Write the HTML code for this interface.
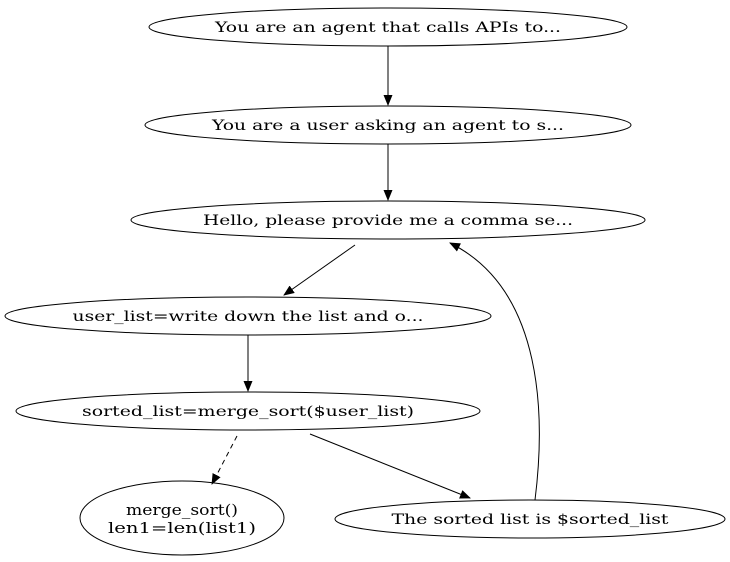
<!DOCTYPE html>
<html><head><style>html,body{margin:0;padding:0;background:#fff;}svg{display:block}</style></head>
<body>
<svg width="730" height="562" viewBox="0 0 730 562" xmlns="http://www.w3.org/2000/svg" font-family="DejaVu Serif, serif" font-size="14" text-anchor="middle">
<defs><marker id="a" markerWidth="11" markerHeight="9" refX="10" refY="4.5" orient="auto" markerUnits="userSpaceOnUse"><path d="M0,0 L11,4.5 L0,9 z" fill="#000"/></marker></defs>
<g fill="none" stroke="#000" stroke-width="1">
<ellipse cx="388" cy="27" rx="239" ry="19"/>
<ellipse cx="388" cy="125" rx="243" ry="19"/>
<ellipse cx="388" cy="220" rx="257" ry="19"/>
<ellipse cx="248" cy="316" rx="243" ry="19"/>
<ellipse cx="248" cy="411" rx="232" ry="19"/>
<ellipse cx="182" cy="518" rx="102" ry="37"/>
<ellipse cx="530" cy="519" rx="195" ry="19"/>
<line x1="388" y1="46" x2="388" y2="105" marker-end="url(#a)"/>
<line x1="388" y1="144" x2="388" y2="200" marker-end="url(#a)"/>
<line x1="355" y1="245" x2="284" y2="295" marker-end="url(#a)"/>
<line x1="248" y1="335" x2="248" y2="391" marker-end="url(#a)"/>
<line x1="237" y1="436" x2="212" y2="484" stroke-dasharray="5,4" marker-end="url(#a)"/>
<line x1="310" y1="434" x2="470" y2="498" marker-end="url(#a)"/>
<path d="M535,500 C545,420 545,290 450,243" marker-end="url(#a)"/>
</g>
<g fill="#000">
<text x="388" y="32" textLength="346" lengthAdjust="spacingAndGlyphs">You are an agent that calls APIs to...</text>
<text x="388" y="130" textLength="352" lengthAdjust="spacingAndGlyphs">You are a user asking an agent to s...</text>
<text x="388" y="225" textLength="370" lengthAdjust="spacingAndGlyphs">Hello, please provide me a comma se...</text>
<text x="248" y="321" textLength="351" lengthAdjust="spacingAndGlyphs">user_list=write down the list and o...</text>
<text x="248" y="416" textLength="332" lengthAdjust="spacingAndGlyphs">sorted_list=merge_sort($user_list)</text>
<text x="182" y="515" font-size="15" textLength="112" lengthAdjust="spacingAndGlyphs">merge_sort()</text>
<text x="182" y="533" font-size="15" textLength="148" lengthAdjust="spacingAndGlyphs">len1=len(list1)</text>
<text x="530" y="524" textLength="277" lengthAdjust="spacingAndGlyphs">The sorted list is $sorted_list</text>
</g>
</svg>
</body></html>
